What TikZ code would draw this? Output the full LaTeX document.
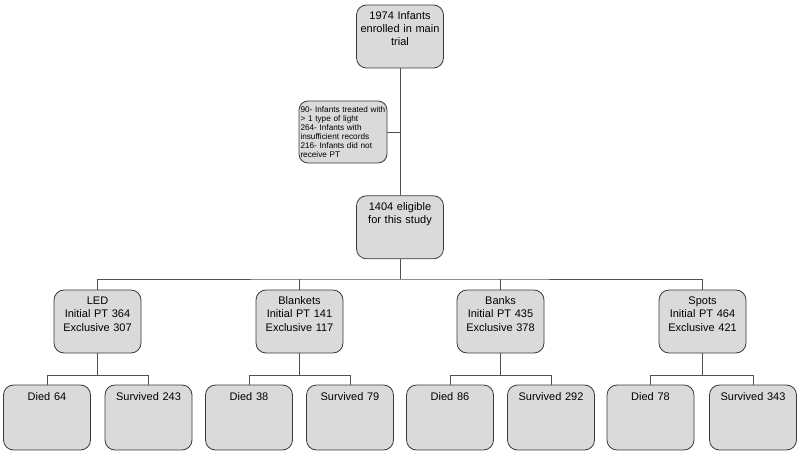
\documentclass[tikz,border=0pt]{standalone}
\usepackage{fontspec}
\setmainfont{Liberation Sans}
\usepackage{xcolor}
\definecolor{boxfill}{HTML}{DADADA}
\definecolor{boxline}{HTML}{3A3A3A}
\definecolor{linkgray}{HTML}{505050}
\usetikzlibrary{positioning,calc}
\tikzset{
  flowbox/.style={draw=boxline,line width=0.8pt,fill=boxfill,rounded corners=10pt,
    minimum width=87pt,text width=83pt,align=center,inner xsep=2pt,inner ysep=4pt,
    text height=11pt,text depth=44pt,font=\fontsize{11}{13}\selectfont},
  outcomebox/.style={flowbox,text depth=46pt},
  notebox/.style={draw=boxline,line width=0.8pt,fill=boxfill,rounded corners=9pt,
    minimum width=88pt,minimum height=62pt,text width=85pt,align=left,inner xsep=1.5pt,
    font=\fontsize{8.2}{9.1}\selectfont},
  link/.style={draw=linkgray,line width=0.8pt}
}
\begin{document}
\begin{tikzpicture}[x=1pt,y=-1pt]
\useasboundingbox (0,0) rectangle (800,454);
\node[flowbox] (enrol) at (400,36.5) {1974 Infants\\enrolled in main\\trial};
\node[flowbox,below=127pt of enrol] (elig) {1404 eligible\\for this study};
\node[notebox] (excl) at (343,132) {90- Infants treated with\\> 1 type of light\\264- Infants with\\insufficient records\\216- Infants did not\\receive PT};
\coordinate (bus) at (400,279);
% light groups
\node[flowbox] (led)   at (97.5,321.5)  {LED\\Initial PT 364\\Exclusive 307};
\node[flowbox] (blank) at (299.5,321.5) {Blankets\\Initial PT 141\\Exclusive 117};
\node[flowbox] (bank)  at (500.5,321.5) {Banks\\Initial PT 435\\Exclusive 378};
\node[flowbox] (spot)  at (702.5,321.5) {Spots\\Initial PT 464\\Exclusive 421};
% outcomes
\node[outcomebox] (led-d)   at (47,417.5)  {Died 64};
\node[outcomebox] (led-s)   at (148.5,417.5) {Survived 243};
\node[outcomebox] (blank-d) at (249,417.5) {Died 38};
\node[outcomebox] (blank-s) at (350,417.5) {Survived 79};
\node[outcomebox] (bank-d)  at (450,417.5) {Died 86};
\node[outcomebox] (bank-s)  at (551,417.5) {Survived 292};
\node[outcomebox] (spot-d)  at (650.5,417.5) {Died 78};
\node[outcomebox] (spot-s)  at (753,417.5) {Survived 343};
\draw[link] (enrol)--(elig);
\draw[link] (excl.east)--(excl.east -| enrol.south);
\draw[link] (elig.south)--(bus);
\draw[link] (led.north) |- (bus) -| (spot.north);
\draw[link] (bus -| blank.north)--(blank.north);\draw[link] (bus -| bank.north)--(bank.north);
\draw[link] (led.south)--++(0,23);\draw[link] (led-d.north) |- ++(50,-9) -| (led-s.north);
\draw[link] (blank.south)--++(0,23);\draw[link] (blank-d.north) |- ++(50,-9) -| (blank-s.north);
\draw[link] (bank.south)--++(0,23);\draw[link] (bank-d.north) |- ++(50,-9) -| (bank-s.north);
\draw[link] (spot.south)--++(0,23);\draw[link] (spot-d.north) |- ++(50,-9) -| (spot-s.north);
\end{tikzpicture}
\end{document}
